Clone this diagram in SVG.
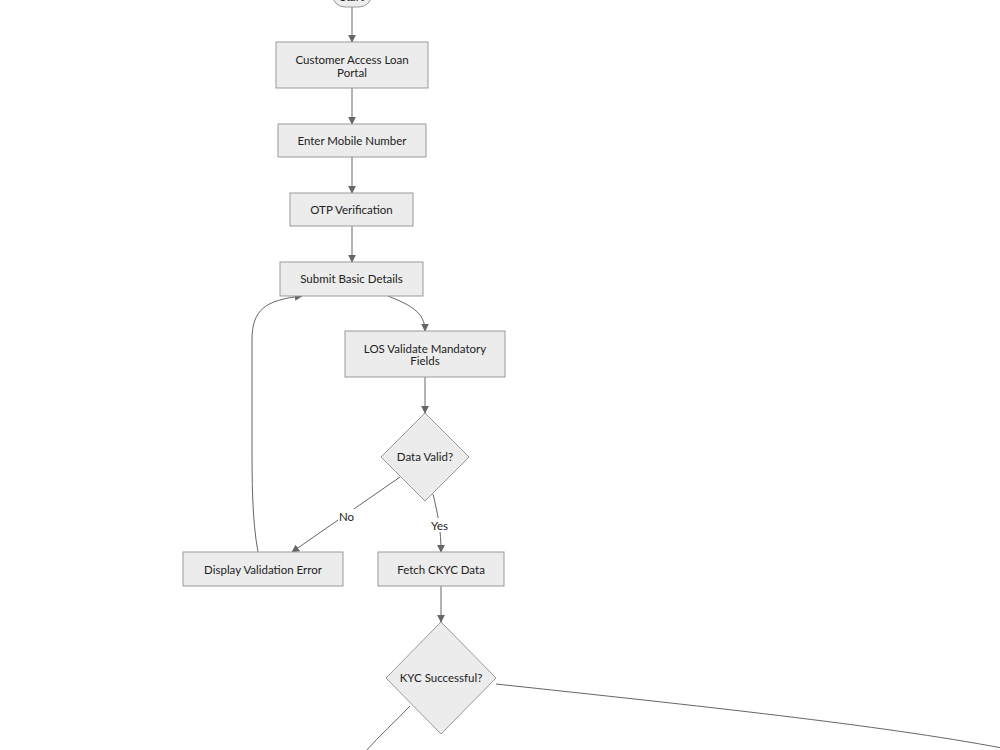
<svg xmlns="http://www.w3.org/2000/svg" width="1000" height="750" viewBox="0 0 1000 750">
<style>
.node rect,.node polygon{fill:#ececec;stroke:#999;stroke-width:1}
.node text,.lbl text{font-family:Lato,"Open Sans","DejaVu Sans",sans-serif;font-size:11.5px;fill:#222;text-anchor:middle}
.edge{fill:none;stroke:#666;stroke-width:1}
.lblbg{fill:#fff}
</style>
<defs>
<marker id="arr" viewBox="0 0 10 10" refX="9" refY="5" markerWidth="8" markerHeight="8" markerUnits="userSpaceOnUse" orient="auto">
<path d="M0,0 L10,5 L0,10 z" fill="#666"/>
</marker>
</defs>
<rect width="1000" height="750" fill="#fff"/>
<g id="connectors">
<path class="edge" d="M352,7 L352,42" marker-end="url(#arr)"/>
<path class="edge" d="M352,88 L352,124" marker-end="url(#arr)"/>
<path class="edge" d="M352,157 L352,193" marker-end="url(#arr)"/>
<path class="edge" d="M352,226 L352,262" marker-end="url(#arr)"/>
<path class="edge" d="M388,296 C410,305 425,312 425,331" marker-end="url(#arr)"/>
<path class="edge" d="M425,377 L425,413" marker-end="url(#arr)"/>
<path class="edge" d="M400,477 L292,552" marker-end="url(#arr)"/>
<path class="edge" d="M433,494 C438,515 441,530 441,552" marker-end="url(#arr)"/>
<path class="edge" d="M258,552 C252,520 252,480 252,440 L252,340 C252,310 265,300 302,296" marker-end="url(#arr)"/>
<path class="edge" d="M441,586 L441,622" marker-end="url(#arr)"/>
<path class="edge" d="M410,706 C395,722 380,735 365,752"/>
<path class="edge" d="M496,684 C700,706 880,725 1002,748"/>
<g class="lbl">
<rect class="lblbg" x="338" y="509" width="17" height="14"/>
<text x="346.5" y="521">No</text>
<rect class="lblbg" x="429" y="518" width="21" height="14"/>
<text x="439.5" y="530">Yes</text>
</g>
</g>
<g id="start" class="node">
<rect x="332" y="-20" width="40" height="27" rx="13" ry="13"/>
<text x="352" y="1">Start</text>
</g>
<g id="access" class="node">
<rect x="276" y="42" width="152" height="46"/>
<text x="352" y="64">Customer Access Loan</text>
<text x="352" y="77">Portal</text>
</g>
<g id="mobile" class="node">
<rect x="278" y="124" width="148" height="33"/>
<text x="352" y="145">Enter Mobile Number</text>
</g>
<g id="otp" class="node">
<rect x="290" y="193" width="123" height="33"/>
<text x="351.5" y="214">OTP Verification</text>
</g>
<g id="submit" class="node">
<rect x="280" y="262" width="143" height="34"/>
<text x="351.5" y="283">Submit Basic Details</text>
</g>
<g id="validate" class="node">
<rect x="345" y="331" width="160" height="46"/>
<text x="425" y="353">LOS Validate Mandatory</text>
<text x="425" y="365">Fields</text>
</g>
<g id="datavalid" class="node">
<polygon points="425,413 469,457 425,501 381,457"/>
<text x="425" y="461">Data Valid?</text>
</g>
<g id="error" class="node">
<rect x="183" y="552" width="160" height="34"/>
<text x="263" y="574">Display Validation Error</text>
</g>
<g id="ckyc" class="node">
<rect x="378" y="552" width="126" height="34"/>
<text x="441" y="574">Fetch CKYC Data</text>
</g>
<g id="kyc" class="node">
<polygon points="441,622 496,678 441,734 386,678"/>
<text x="441" y="682">KYC Successful?</text>
</g>
</svg>
